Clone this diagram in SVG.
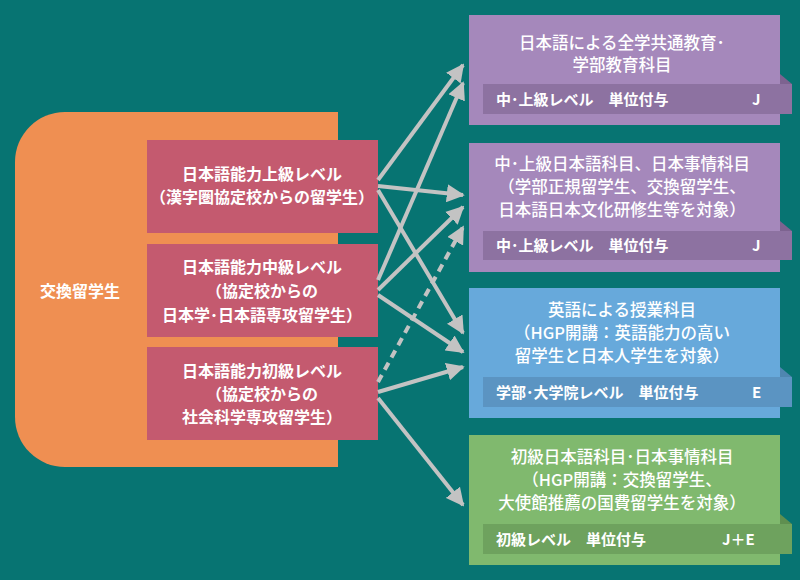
<svg xmlns="http://www.w3.org/2000/svg" width="800" height="580" viewBox="0 0 800 580">
<defs>
<style>
text{font-family:"Noto Sans CJK JP","Noto Sans CJK SC",sans-serif;fill:#fff;font-weight:bold;text-anchor:middle;font-size:16px}
.t{font-size:16.5px;font-weight:500}
.r{font-size:15px;text-anchor:start}
.c{stroke:#c3c3c3;stroke-width:4;fill:none;marker-end:url(#ah)}
</style>
<marker id="ah" viewBox="0 0 10 10" refX="9" refY="5" markerWidth="4.5" markerHeight="4.5" orient="auto" markerUnits="strokeWidth"><path d="M0,0L10,5L0,10z" fill="#c3c3c3"/></marker>
</defs>
<rect width="800" height="580" fill="#077472"/>
<g id="exchange">
<path d="M65,112H338V467H65A50,50 0 0 1 15,417V162A50,50 0 0 1 65,112Z" fill="#ef8f52"/>
<text x="80" y="297" font-size="17">交換留学生</text>
</g>
<g id="adv" ><rect x="147" y="140" width="231" height="93" fill="#c45a6f"/>
<text x="262" y="180">日本語能力上級レベル</text><text x="262" y="203" font-size="14.5">（漢字圏協定校からの留学生）</text></g>
<g id="mid"><rect x="147" y="244" width="231" height="93" fill="#c45a6f"/>
<text x="262" y="273">日本語能力中級レベル</text><text x="262" y="297" font-size="15">（協定校からの</text><text x="262" y="321" font-size="15">日本学･日本語専攻留学生）</text></g>
<g id="beg"><rect x="147" y="347" width="231" height="93" fill="#c45a6f"/>
<text x="262" y="377">日本語能力初級レベル</text><text x="262" y="400" font-size="15">（協定校からの</text><text x="262" y="423" font-size="15">社会科学専攻留学生）</text></g>

<g id="c1"><rect x="469" y="15" width="311" height="110" fill="#a588bb"/>
<text class="t" x="622" y="49">日本語による全学共通教育･</text><text class="t" x="622" y="71">学部教育科目</text>
<path d="M780,74L792,84H780Z" fill="#7d6390"/><rect x="483" y="84" width="309" height="30" fill="#8d72a1"/>
<text class="r" x="496" y="105">中･上級レベル　単位付与</text><text class="r" x="752" y="105">J</text></g>
<g id="c2"><rect x="469" y="143" width="311" height="129" fill="#a588bb"/>
<text class="t" x="622" y="170">中･上級日本語科目、日本事情科目</text><text class="t" x="622" y="193">（学部正規留学生、交換留学生、</text><text class="t" x="622" y="216">日本語日本文化研修生等を対象）</text>
<path d="M780,221L792,231H780Z" fill="#7d6390"/><rect x="483" y="231" width="309" height="29" fill="#8d72a1"/>
<text class="r" x="496" y="251">中･上級レベル　単位付与</text><text class="r" x="752" y="251">J</text></g>
<g id="c3"><rect x="469" y="288" width="311" height="130" fill="#67a9db"/>
<text class="t" x="622" y="316">英語による授業科目</text><text class="t" x="622" y="339">（HGP開講：英語能力の高い</text><text class="t" x="622" y="362">留学生と日本人学生を対象）</text>
<path d="M780,367L792,377H780Z" fill="#4f86b0"/><rect x="483" y="377" width="309" height="30" fill="#5b94c2"/>
<text class="r" x="496" y="398">学部･大学院レベル　単位付与</text><text class="r" x="752" y="398">E</text></g>
<g id="c4"><rect x="469" y="435" width="311" height="130" fill="#80b96e"/>
<text class="t" x="622" y="463">初級日本語科目･日本事情科目</text><text class="t" x="622" y="486">（HGP開講：交換留学生、</text><text class="t" x="622" y="509">大使館推薦の国費留学生を対象）</text>
<path d="M780,514L792,524H780Z" fill="#5f8f50"/><rect x="483" y="524" width="309" height="30" fill="#6ea25e"/>
<text class="r" x="496" y="545">初級レベル　単位付与</text><text class="r" x="722" y="545">J＋E</text></g>

<g id="connectors">
<path class="c" d="M378,180L463,65"/>
<path class="c" d="M378,280L463,83"/>
<path class="c" d="M378,186L463,195"/>
<path class="c" d="M378,190L463,333"/>
<path class="c" d="M378,290L463,207"/>
<path class="c" d="M378,382L463,227" stroke-dasharray="8,6"/>
<path class="c" d="M378,295L463,352"/>
<path class="c" d="M378,392L463,367"/>
<path class="c" d="M378,398L463,505"/>
</g>
</svg>
